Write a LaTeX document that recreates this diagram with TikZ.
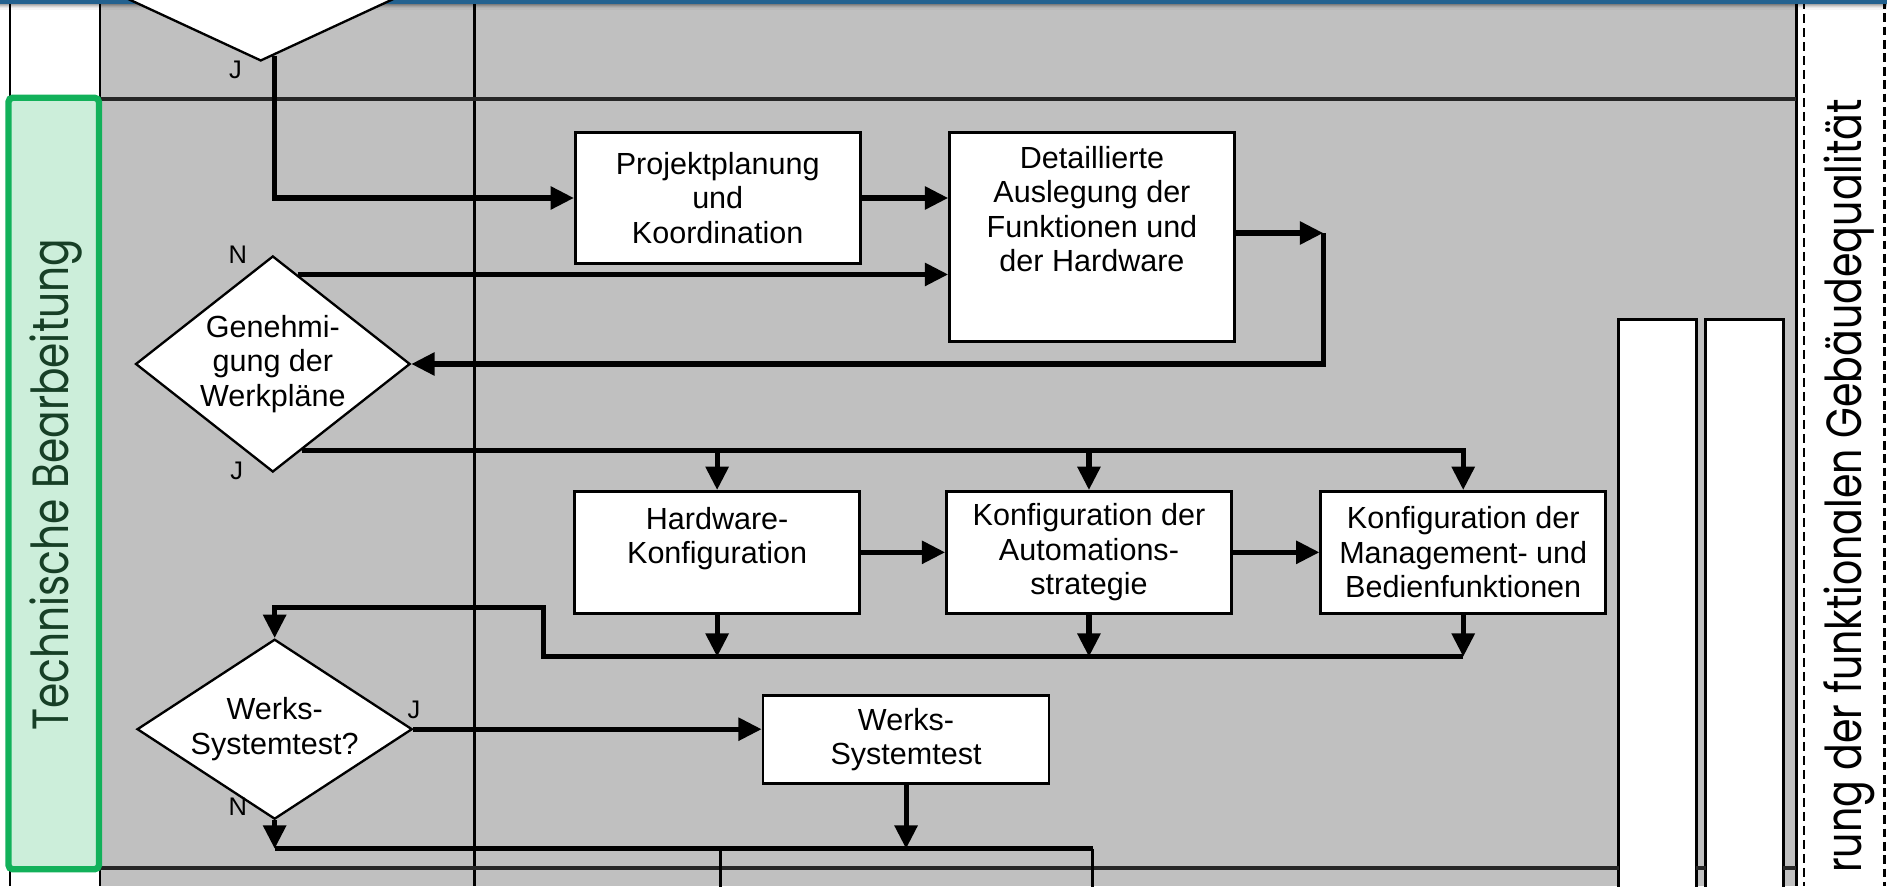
\documentclass[tikz,border=0pt]{standalone}
\usepackage{fontspec}
\setmainfont{Liberation Sans}
\newfontfamily\lanefont[FakeStretch=0.80]{Poppins}
\usetikzlibrary{arrows.meta,positioning,calc,shapes.geometric}
\definecolor{tbGray}{HTML}{C0C0C0}
\definecolor{tbGreen}{HTML}{12B15A}
\definecolor{tbMint}{HTML}{CCEEDA}
\definecolor{tbBlue}{HTML}{22618F}
\definecolor{tbInk}{HTML}{173F26}

\begin{document}
\begin{tikzpicture}[x=0.02cm,y=-0.02cm,
    font=\fontsize{14.4}{16.2}\selectfont,
    proc/.style={draw,fill=white,line width=1.3pt,align=center,inner sep=2pt,
                 minimum width=4.72cm},
    decide/.style={diamond,draw,fill=white,line width=1.1pt,align=center,inner sep=-6pt},
    flow/.style={line width=2.4pt},
    arr/.style={flow,-{Triangle[length=11pt,width=10.5pt]}},
    drop/.style={line width=1.3pt},
    lane/.style={line width=1pt},
    sep/.style={line width=2pt,draw=black!85},
    yn/.style={font=\fontsize{12}{14}\selectfont,inner sep=0pt},
    lanelabel/.style={rotate=90,font=\lanefont\fontsize{24}{28}\selectfont}]
  \useasboundingbox (0,0) rectangle (1568,734);
  \fill[white] (0,0) rectangle (1568,734);
  \fill[tbGray] (83,0) rectangle (1488,734);
  \draw[line width=1.4pt,fill=white] (1341,265) rectangle (1405,745);
  \draw[line width=1.4pt,fill=white] (1413,265) rectangle (1477,745);
  \foreach \x in {8,83,393,1488}
    \draw[lane] (\x,0) -- (\x,734);
  \draw[sep] (83,82) -- (1488,82);
  \draw[sep] (83,719) -- (1341,719) (1405,719) -- (1413,719) (1477,719) -- (1488,719);
  \draw[line width=1pt,dash pattern=on 4.4pt off 2.2pt] (1494,0) -- (1494,734);
  \draw[line width=1.5pt,dash pattern=on 4.1pt off 2.2pt] (1561,0) -- (1561,734);
  \draw[tbGreen,fill=tbMint,line width=3pt,rounded corners=2pt] (7,81) rectangle (82,720);
  \foreach \i/\o in {3/0.35,4/0.25,5/0.16,6/0.09,7/0.04}
    \fill[black,opacity=\o] (0,\i) rectangle (1563,\i+1);
  \fill[tbBlue] (0,0) rectangle (1563,3);

  \node[decide,minimum width=4.9cm,minimum height=2.28cm] (chk) at (216,-6.5) {};
  \node[proc,minimum height=2.16cm] (plan) at (594.5,164) {Projektplanung\\und\\Koordination};
  \node[proc,minimum height=3.46cm] (det) at (904.5,196.5)
    {Detaillierte\\Auslegung der\\Funktionen und\\der Hardware\\[10.5pt]\mbox{}};
  \node[decide,minimum width=4.55cm,minimum height=3.58cm] (gen) at (226,301.5)
    {Genehmi-\\gung der\\Werkpläne};
  \node[proc,minimum height=2.02cm] (hw) at (594,457.5) {Hardware-\\Konfiguration\\\mbox{}};
  \node[proc,minimum height=2.02cm] (ka) at (902,457.5) {Konfiguration der\\Automations-\\strategie};
  \node[proc,minimum height=2.02cm] (km) at (1212,457.5)
    {Konfiguration der\\Management- und\\Bedienfunktionen};
  \node[decide,minimum width=4.56cm,minimum height=2.28cm] (wst) at (227.5,604)
    {Werks-\\Systemtest?};
  \node[proc,minimum width=4.74cm,minimum height=1.46cm] (wsb) at (750.5,612.5)
    {Werks-\\Systemtest};

  \node[yn] (j0) at (195,58) {J};
  \node[yn] (n1) at (197,211) {N};
  \node[yn] (j1) at (196,390) {J};
  \node[yn] (j2) at (343,588) {J};
  \node[yn] (n2) at (197,668) {N};

  \coordinate (tJ) at ($(chk.south)!0.09!(chk.east)$);
  \coordinate (gN) at ($(gen.north)!0.18!(gen.east)$);
  \coordinate (gJ) at ($(gen.south)!0.21!(gen.east)$);
  \coordinate (c1) at (1096,193);
  \coordinate (busB) at (450,544);
  \coordinate (busC) at (227.5,703);

  \draw[arr] (tJ) |- (plan.west);
  \draw[arr] (plan.east) -- (det.west |- plan.east);
  \draw[arr] (c1 -| det.east) -- (c1);
  \draw[arr] (c1) |- (gen.east);
  \draw[arr] (gN) -- (gN -| det.west);
  \draw[arr] (gJ) -| (km.north);
  \foreach \b in {hw,ka}
    \draw[arr] (gJ -| \b.north) -- (\b.north);
  \draw[arr] (hw.east) -- (ka.west);
  \draw[arr] (ka.east) -- (km.west);
  \foreach \b in {hw,ka,km}
    \draw[arr] (\b.south) -- (\b.south |- busB);
  \draw[arr] (busB -| km.south) -- (busB) -- ++(0,-41) -| (wst.north);
  \draw[arr] (wst.east) -- (wst.east -| wsb.west);
  \draw[arr] (wst.south) -- (busC);
  \draw[arr] (wsb.south) -- (wsb.south |- busC);
  \draw[flow] (busC) -- (905,703);
  \draw[drop] (597,703) -- (597,740) (905,703) -- (905,740);

  \node[lanelabel,anchor=base,text=tbInk] (laneTB) at (57,401.5) {Technische Bearbeitung};
  \node[lanelabel,anchor=base east,font=\lanefont\fontsize{23.3}{27}\selectfont] (laneFG)
    at (1542,76) {rung der funktionalen Gebäudequalität};
\end{tikzpicture}
\end{document}
